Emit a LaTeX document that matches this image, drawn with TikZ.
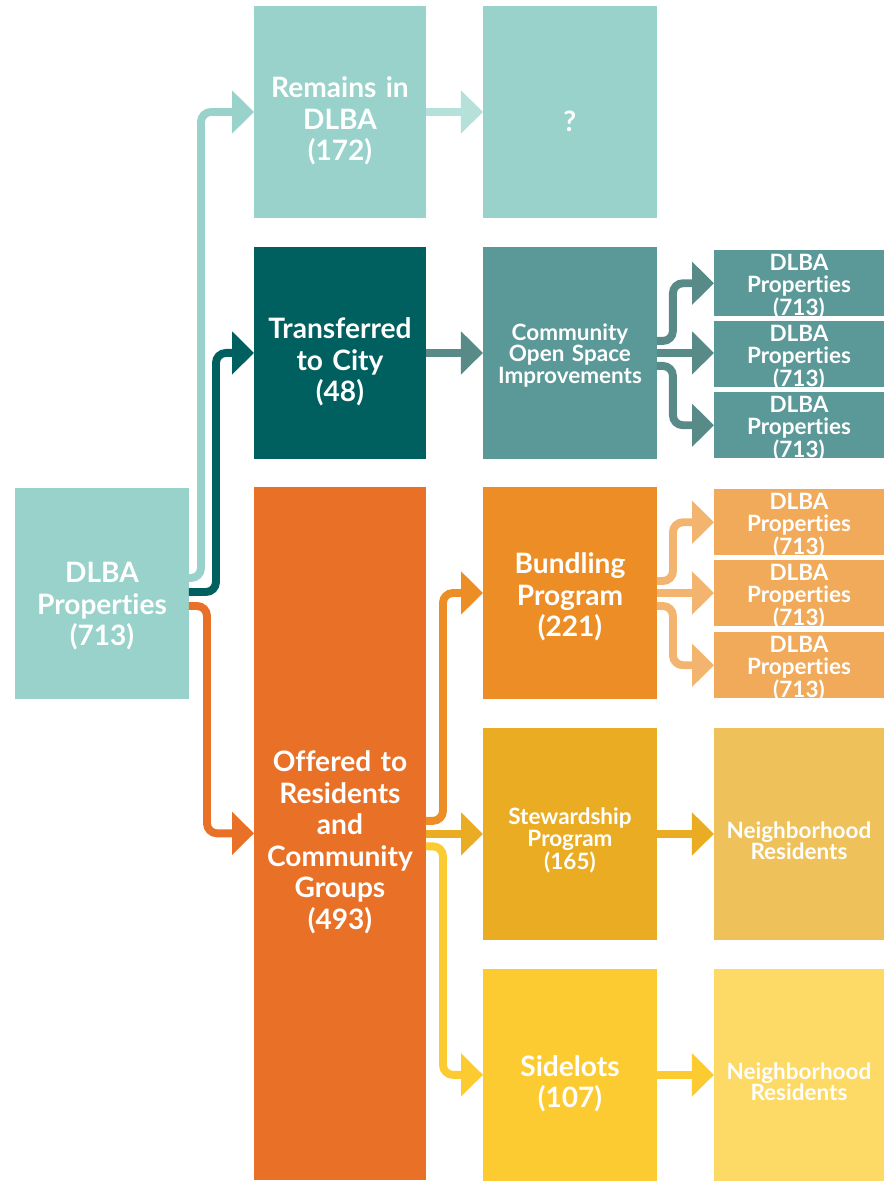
\documentclass[tikz,border=0pt]{standalone}
\usepackage{fontspec}
\setmainfont{Lato}[Ligatures=NoCommon]
\usetikzlibrary{arrows.meta,positioning}
\definecolor{LightTeal}{HTML}{98D2CA}
\definecolor{PaleTeal}{HTML}{B6E1DA}
\definecolor{DarkTeal}{HTML}{00605F}
\definecolor{MidTeal}{HTML}{5B9898}
\definecolor{SlateTeal}{HTML}{588A88}
\definecolor{Orange}{HTML}{E97027}
\definecolor{Amber}{HTML}{EC8E25}
\definecolor{LightAmber}{HTML}{F0AA5A}
\definecolor{PaleAmber}{HTML}{F2B46F}
\definecolor{Gold}{HTML}{E9AC22}
\definecolor{LightGold}{HTML}{EEC15A}
\definecolor{Yellow}{HTML}{FCCB31}
\definecolor{LightYellow}{HTML}{FDD966}

\begin{document}
\begin{tikzpicture}[x=0.02cm, y=-0.02cm,
  box/.style={rectangle, inner sep=0pt, outer sep=0pt, text=white, align=center, text width=3.3cm},
  bigbox/.style={box, minimum width=3.44cm, minimum height=4.24cm, text height=22pt, font=\bfseries\fontsize{16}{18}\selectfont},
  midbox/.style={box, minimum width=3.48cm, minimum height=4.24cm, text height=17pt, font=\bfseries\fontsize{12.8}{12.2}\selectfont},
  smallbox/.style={box, anchor=north west, minimum width=3.4cm, minimum height=1.33cm, text height=11.5pt, text depth=25.5pt, font=\bfseries\fontsize{12.8}{12}\selectfont},
  flow/.style={line width=4.5pt, rounded corners=0.2cm, -{Triangle[length=4.4mm, width=8.4mm]}}]
\fill[white] (0,0) rectangle (894,1181);
\useasboundingbox (0,0) rectangle (894,1181);

\node[bigbox, fill=LightTeal, minimum width=3.48cm, text height=26pt] (dlba) at (102,593.5) {DLBA\\Properties\\(713)};

\node[bigbox, fill=LightTeal, anchor=north west] (remain) at (254,6) {Remains in\\DLBA\\(172)};
\node[bigbox, fill=DarkTeal, below=0.58cm of remain] (city) {Transferred\\to City\\(48)};
\node[bigbox, fill=Orange, minimum height=13.86cm, below=0.56cm of city] (offer) {Offered to\\Residents\\and\\Community\\Groups\\(493)};

\node[bigbox, fill=LightTeal, minimum width=3.48cm, right=1.14cm of remain] (unknown) {?};
\node[midbox, fill=MidTeal, text height=12pt, right=1.14cm of city] (openspace) {Community\\Open Space\\Improvements};
\node[bigbox, fill=Amber, minimum width=3.48cm, text height=16.5pt, anchor=north west] (bundle) at (483,487) {Bundling\\Program\\(221)};
\node[midbox, fill=Gold, below=0.58cm of bundle] (steward) {Stewardship\\Program\\(165)};
\node[bigbox, fill=Yellow, minimum width=3.48cm, below=0.58cm of steward] (sidelot) {Sidelots\\(107)};

\node[smallbox, fill=MidTeal] (os1) at (714,250) {DLBA\\Properties\\(713)};
\node[smallbox, fill=MidTeal] (os2) at (714,321) {DLBA\\Properties\\(713)};
\node[smallbox, fill=MidTeal] (os3) at (714,392) {DLBA\\Properties\\(713)};
\node[smallbox, fill=LightAmber] (bp1) at (714,489) {DLBA\\Properties\\(713)};
\node[smallbox, fill=LightAmber] (bp2) at (714,560) {DLBA\\Properties\\(713)};
\node[smallbox, fill=LightAmber] (bp3) at (714,632) {DLBA\\Properties\\(713)};
\node[midbox, fill=LightGold, minimum width=3.4cm, right=1.14cm of steward] (resid1) {Neighborhood\\Residents};
\node[midbox, fill=LightYellow, minimum width=3.4cm, right=1.14cm of sidelot] (resid2) {Neighborhood\\Residents};

\draw[flow, LightTeal] ([yshift=3.1mm]dlba.east) -- ++(12,0) |- (remain.west);
\draw[flow, DarkTeal] ([yshift=0.3mm]dlba.east) -- ++(27,0) |- (city.west);
\draw[flow, Orange] ([yshift=-2.5mm]dlba.east) -- ++(18,0) |- (offer.west);

\draw[flow, PaleTeal] (remain.east) -- (unknown.west);
\draw[flow, SlateTeal] (city.east) -- (openspace.west);
\draw[flow, Amber] ([yshift=2.5mm]offer.east) -- ++(17,0) |- (bundle.west);
\draw[flow, Gold] (offer.east |- steward.west) -- (steward.west);
\draw[flow, Yellow] ([yshift=-2.6mm]offer.east) -- ++(17,0) |- (sidelot.west);

\draw[flow, SlateTeal] ([yshift=2.4mm]openspace.east) -- ++(16,0) |- (os1.west);
\draw[flow, SlateTeal] (openspace.east) -- (openspace.east -| os2.west);
\draw[flow, SlateTeal] ([yshift=-2.6mm]openspace.east) -- ++(16,0) |- (os3.west);
\draw[flow, PaleAmber] ([yshift=2.4mm]bundle.east) -- ++(16,0) |- (bp1.west);
\draw[flow, PaleAmber] (bundle.east) -- (bundle.east -| bp2.west);
\draw[flow, PaleAmber] ([yshift=-2.6mm]bundle.east) -- ++(16,0) |- (bp3.west);
\draw[flow, Gold] (steward.east) -- (resid1.west);
\draw[flow, Yellow] (sidelot.east) -- (resid2.west);
\end{tikzpicture}
\end{document}
